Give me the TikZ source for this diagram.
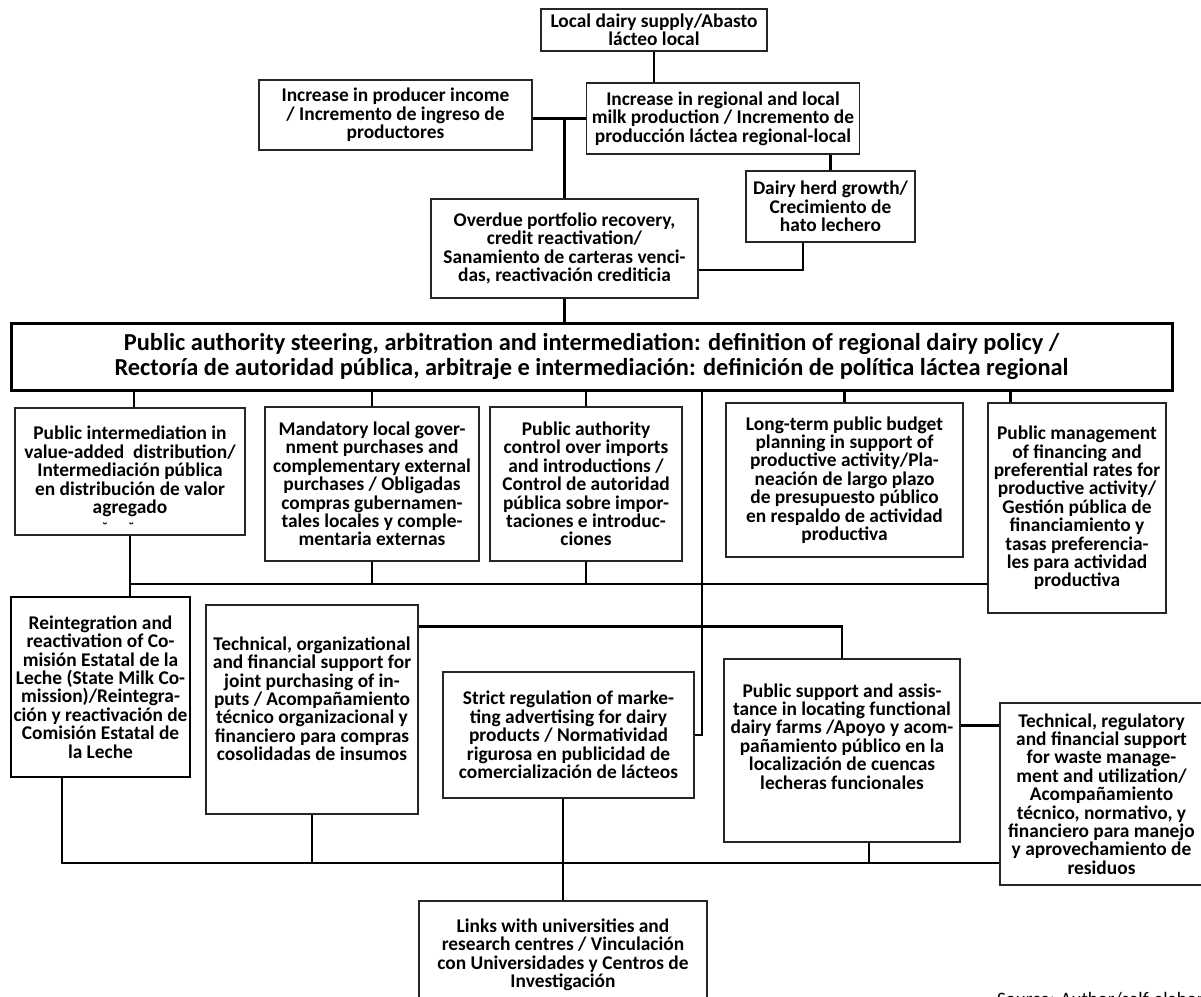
\documentclass[tikz,border=0pt]{standalone}
\usepackage{fontspec}
\setmainfont{Carlito}
\usetikzlibrary{calc}
\newcommand{\lowdepth}[1]{\rule[-#1]{0pt}{0pt}}
\begin{document}
\begin{tikzpicture}[x=1pt,y=-1pt,
  box/.style={draw=black!85, line width=1.4pt, align=center, inner sep=0pt,
    font=\bfseries\fontsize{19.4}{18.4}\selectfont},
  heavybox/.style={box, draw=black, line width=3pt},
  link/.style={line width=2.8pt, black}]
\useasboundingbox (0,0) rectangle (1201,996);
\fill[white] (0,0) rectangle (1201,996);

% ---- upper chain of outcomes ----
\node[box, minimum width=226pt, minimum height=42pt] (loc) at (654,30)
  {Local dairy supply/Abasto\\lácteo local};
\node[box, minimum width=273pt, minimum height=70pt] (inc) at (395.5,115)
  {Increase in producer income\\/ Incremento de ingreso de\\productores};
\node[box, minimum width=273pt, minimum height=71pt] (reg) at (723,118.5)
  {Increase in regional and local\\milk production / Incremento de\\producción láctea regional-local};
\node[box, minimum width=169pt, minimum height=71pt] (herd) at (830.5,206.5)
  {Dairy herd growth/\\Crecimiento de\\hato lechero};
\node[box, minimum width=267pt, minimum height=99pt] (ov) at (564.5,248.5)
  {Overdue portfolio recovery,\\credit reactivation/\\Sanamiento de carteras venci-\\das, reactivación crediticia};

% ---- central steering box ----
\node[heavybox, minimum width=1161pt, minimum height=67pt,
  font=\bfseries\fontsize{24.4}{24.3}\selectfont] (big) at (591.5,356.5)
  {Public authority steering, arbitration and intermediation: definition of regional dairy policy /\\
   Rectoría de autoridad pública, arbitraje e intermediación: definición de política láctea regional};

% ---- second row ----
\node[box, minimum width=230pt, minimum height=127pt] (pa) at (130,471.5)
  {Public intermediation in\\value-added\ \ distribution/\\Intermediación pública\\en distribución de valor\\agregado\rlap{\smash{\raisebox{-19pt}{\fontsize{14}{14}\selectfont\hspace{-65pt}\textasciibreve\hspace{21pt}\textasciibreve}}}};
\node[box, minimum width=214pt, minimum height=154pt] (mand) at (372,484)
  {Mandatory local gover-\\nment purchases and\\complementary external\\purchases / Obligadas\\compras gubernamen-\\tales locales y comple-\\mentaria externas};
\node[box, minimum width=192pt, minimum height=154pt] (ctrl) at (586,484)
  {Public authority\\control over imports\\and introductions /\\Control de autoridad\\pública sobre impor-\\taciones e introduc-\\ciones};
\node[box, minimum width=237pt, minimum height=154pt] (budget) at (844.5,480)
  {Long-term public budget\\planning in support of\\productive activity/Pla-\\neación de largo plazo\\de presupuesto público\\en respaldo de actividad\\productiva};
\node[box, minimum width=178pt, minimum height=210pt] (fin) at (1077,508)
  {Public management\\of financing and\\preferential rates for\\productive activity/\\Gestión pública de\\financiamiento y\\tasas preferencia-\\les para actividad\\productiva};

% ---- third row ----
\node[heavybox, line width=2.6pt, minimum width=179pt, minimum height=180pt] (reint) at (100.5,687)
  {Reintegration and\\reactivation of Co-\\misión Estatal de la\\Leche (State Milk Co-\\mission)/Reintegra-\\ción y reactivación de\\Comisión Estatal de\\la Leche};
\node[box, minimum width=212pt, minimum height=209pt] (tech) at (312,709.5)
  {Technical, organizational\\and financial support for\\joint purchasing of in-\\puts / Acompañamiento\\técnico organizacional y\\financiero para compras\\cosolidadas de insumos\lowdepth{21.5pt}};
\node[box, minimum width=251pt, minimum height=126pt] (strict) at (568.5,735)
  {Strict regulation of marke-\\ting advertising for dairy\\products / Normatividad\\rigurosa en publicidad de\\comercialización de lácteos};
\node[box, minimum width=236pt, minimum height=183pt] (supp) at (842,750.5)
  {Public support and assis-\\tance in locating functional\\dairy farms /Apoyo y acom-\\pañamiento público en la\\localización de cuencas\\lecheras funcionales\lowdepth{28.5pt}};
\node[box, minimum width=203pt, minimum height=182pt] (waste) at (1101.5,794)
  {Technical, regulatory\\and financial support\\for waste manage-\\ment and utilization/\\Acompañamiento\\técnico, normativo, y\\financiero para manejo\\y aprovechamiento de\\residuos};
\node[box, minimum width=288pt, minimum height=108pt] (links) at (563,955)
  {Links with universities and\\research centres / Vinculación\\con Universidades y Centros de\\Investigación};

\node[anchor=base west, inner sep=0pt, font=\fontsize{19}{19}\selectfont] (src) at (997,1005)
  {Source: Author/self-elaboration};

% ---- connectors, upper part ----
\draw[link] (loc.south) -- (loc.south |- reg.north);
\draw[link] (reg.west) -- (reg.west -| inc.east);
\draw[link] (ov.north) -- (ov.north |- reg.west);
\draw[link] (herd.north) -- (herd.north |- reg.south);
\coordinate (herdout) at ($(herd.south)+(-27.5,0)$);
\coordinate (ovin) at ($(ov.east)+(0,21.5)$);
\draw[link] (herdout) |- (ovin);
\draw[link] (ov.south) -- (ov.south |- big.north);

% ---- connectors, steering box to second row ----
\coordinate (pain) at ($(pa.north)+(4,0)$);
\draw[link] (pain) -- (pain |- big.south);
\draw[link] (mand.north) -- (mand.north |- big.south);
\draw[link] (ctrl.north) -- (ctrl.north |- big.south);
\draw[link] (budget.north) -- (budget.north |- big.south);
\coordinate (finin) at ($(fin.north west)+(23,0)$);
\draw[link] (finin) -- (finin |- big.south);

% ---- first bus ----
\coordinate (bus1) at (0,584);
\draw[link] (pa.south) -- (pa.south |- reint.north);
\draw[link] (pa.south |- bus1) -- (bus1 -| fin.west);
\draw[link] (mand.south) -- (mand.south |- bus1);
\draw[link] (ctrl.south) -- (ctrl.south |- bus1);

% ---- spine from the steering box to the advertising rule ----
\coordinate (spine) at (702,0);
\draw[link] (spine |- big.south) |- (strict.east);

% ---- joint purchasing to dairy farm location, and on to waste ----
\coordinate (techout) at ($(tech.north east)+(0,22)$);
\draw[link] (techout) -| (supp.north);
\coordinate (suppout) at ($(supp.north east)+(0,67)$);
\draw[link] (suppout) -- (suppout -| waste.west);

% ---- second bus ----
\coordinate (bus2) at (0,863);
\coordinate (reintout) at ($(reint.south)+(-38.5,0)$);
\draw[link] (reintout) -- (reintout |- bus2) -- (bus2 -| waste.west);
\draw[link] (tech.south) -- (tech.south |- bus2);
\draw[link] (links.north) -- (links.north |- strict.south);
\coordinate (suppdown) at ($(supp.south)+(27,0)$);
\draw[link] (suppdown) -- (suppdown |- bus2);
\end{tikzpicture}
\end{document}
